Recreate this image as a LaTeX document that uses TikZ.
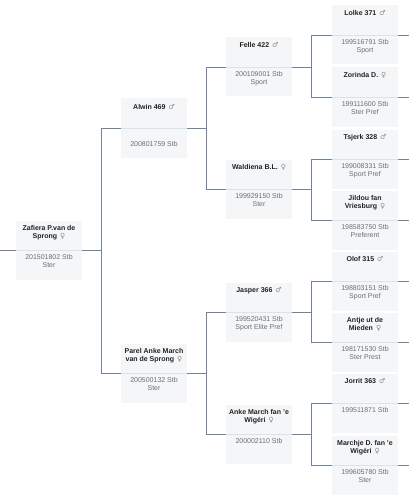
\documentclass[tikz,border=0pt]{standalone}
\usepackage{fontspec}
\setmainfont{Liberation Sans}
\newfontfamily\symbolfont{DejaVu Sans}
\usetikzlibrary{positioning}
\definecolor{boxfill}{HTML}{F4F6F8}
\definecolor{dividercol}{HTML}{D3E6E9}
\definecolor{linkcol}{HTML}{71829B}
\definecolor{namecol}{HTML}{222222}
\definecolor{regcol}{HTML}{6F6F6F}
\definecolor{sexcol}{HTML}{8A8A8A}
\newcommand{\hengst}{\hspace{3pt}{\symbolfont\mdseries\color{sexcol}♂}}
\newcommand{\merrie}{\hspace{3pt}{\symbolfont\mdseries\color{sexcol}♀}}
\tikzset{
pedigree/.style={x=1pt,y=-1pt,node distance=4.5pt,
    font=\fontsize{7}{8}\selectfont},
horse/.style={rectangle,fill=boxfill,minimum width=66pt,minimum height=59pt,
    inner sep=0pt,path picture={\draw[divider]
    (path picture bounding box.west) -- (path picture bounding box.east);}},
divider/.style={draw=dividercol,line width=0.8pt},
horsename/.style={align=center,inner sep=0pt,text=namecol,
    font=\fontsize{7}{8}\selectfont\bfseries},
horsereg/.style={align=center,inner sep=0pt,text=regcol},
link/.style={draw=linkcol,line width=0.9pt},
fork/.style={to path={-- ++(19.5,0) |- (\tikztotarget)}},
}

\begin{document}
\begin{tikzpicture}[pedigree]
    \useasboundingbox (0,0) rectangle (409,500);
    \coordinate (lim) at (0,0);
    \coordinate (rim) at (409,0);

    % generation 0 and 1
    \node[horse] (zafiera) at (49,250) {};
    \node[horse] (alwin) at (154,128) {};
    \node[horse] (parel) at (154,373) {};
    % generation 2
    \node[horse] (felle) at (259,67) {};
    \node[horse] (waldiena) at (259,189) {};
    \node[horse] (jasper) at (259,312) {};
    \node[horse] (anke) at (259,434) {};
    % generation 3
    \node[horse] (lolke) at (365,35) {};
    \node[horse] (zorinda) at (365,97) {};
    \node[horse] (tsjerk) at (365,159) {};
    \node[horse] (jildou) at (365,220) {};
    \node[horse] (olof) at (365,281) {};
    \node[horse] (antje) at (365,342) {};
    \node[horse] (jorrit) at (365,403) {};
    \node[horse] (marchje) at (365,465) {};

    \node[horsename] (zafiera-n) [below=of zafiera.north] {Zafiera P.van de\\Sprong\merrie};
    \node[horsereg] (zafiera-r) [below=of zafiera.center] {201501802 Stb\\Ster};
    \node[horsename] (alwin-n) [below=6pt of alwin.north] {Alwin 469\hengst};
    \node[horsereg] (alwin-r) [below=13pt of alwin.center] {200801759 Stb};
    \node[horsename] (parel-n) [below=of parel.north] {Parel Anke March\\van de Sprong\merrie};
    \node[horsereg] (parel-r) [below=of parel.center] {200500132 Stb\\Ster};

    \node[horsename] (felle-n) [below=of felle.north] {Felle 422\hengst};
    \node[horsereg] (felle-r) [below=of felle.center] {200109001 Stb\\Sport};
    \node[horsename] (waldiena-n) [below=of waldiena.north] {Waldiena B.L.\merrie};
    \node[horsereg] (waldiena-r) [below=of waldiena.center] {199929150 Stb\\Ster};
    \node[horsename] (jasper-n) [below=of jasper.north] {Jasper 366\hengst};
    \node[horsereg] (jasper-r) [below=of jasper.center] {199520431 Stb\\Sport Elite Pref};
    \node[horsename] (anke-n) [below=of anke.north] {Anke March fan 'e\\Wigéri\merrie};
    \node[horsereg] (anke-r) [below=of anke.center] {200002110 Stb};

    \node[horsename] (lolke-n) [below=of lolke.north] {Lolke 371\hengst};
    \node[horsereg] (lolke-r) [below=of lolke.center] {199516791 Stb\\Sport};
    \node[horsename] (zorinda-n) [below=of zorinda.north] {Zorinda D.\merrie};
    \node[horsereg] (zorinda-r) [below=of zorinda.center] {199111600 Stb\\Ster Pref};
    \node[horsename] (tsjerk-n) [below=of tsjerk.north] {Tsjerk 328\hengst};
    \node[horsereg] (tsjerk-r) [below=of tsjerk.center] {199008331 Stb\\Sport Pref};
    \node[horsename] (jildou-n) [below=of jildou.north] {Jildou fan\\Vriesburg\merrie};
    \node[horsereg] (jildou-r) [below=of jildou.center] {198583750 Stb\\Preferent};
    \node[horsename] (olof-n) [below=of olof.north] {Olof 315\hengst};
    \node[horsereg] (olof-r) [below=of olof.center] {198803151 Stb\\Sport Pref};
    \node[horsename] (antje-n) [below=of antje.north] {Antje ut de\\Mieden\merrie};
    \node[horsereg] (antje-r) [below=of antje.center] {198171530 Stb\\Ster Prest};
    \node[horsename] (jorrit-n) [below=of jorrit.north] {Jorrit 363\hengst};
    \node[horsereg] (jorrit-r) [below=of jorrit.center] {199511871 Stb};
    \node[horsename] (marchje-n) [below=of marchje.north] {Marchje D. fan 'e\\Wigéri\merrie};
    \node[horsereg] (marchje-r) [below=of marchje.center] {199605780 Stb\\Ster};

    \path[link]
        (zafiera.west) edge (zafiera.west -| lim)
        (zafiera.east) edge[fork] (alwin.west)
                       edge[fork] (parel.west)
        (alwin.east) edge[fork] (felle.west)
                     edge[fork] (waldiena.west)
        (parel.east) edge[fork] (jasper.west)
                     edge[fork] (anke.west)
        (felle.east) edge[fork] (lolke.west)
                     edge[fork] (zorinda.west)
        (waldiena.east) edge[fork] (tsjerk.west)
                        edge[fork] (jildou.west)
        (jasper.east) edge[fork] (olof.west)
                      edge[fork] (antje.west)
        (anke.east) edge[fork] (jorrit.west)
                    edge[fork] (marchje.west)
    ;
    \path[link]
        (lolke.east) edge (lolke.east -| rim)
        (zorinda.east) edge (zorinda.east -| rim)
        (tsjerk.east) edge (tsjerk.east -| rim)
        (jildou.east) edge (jildou.east -| rim)
        (olof.east) edge (olof.east -| rim)
        (antje.east) edge (antje.east -| rim)
        (jorrit.east) edge (jorrit.east -| rim)
        (marchje.east) edge (marchje.east -| rim)
    ;
\end{tikzpicture}
\end{document}
